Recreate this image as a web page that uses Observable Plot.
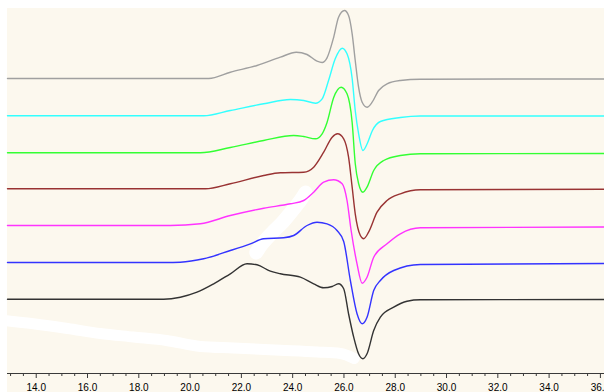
<!DOCTYPE html>
<html>
<head>
<meta charset="utf-8">
<script src="https://cdn.jsdelivr.net/npm/d3@7"></script>
<script src="https://cdn.jsdelivr.net/npm/@observablehq/plot@0.6"></script>
<style>
  html, body { margin: 0; padding: 0; background: #ffffff; }
  #wrap { padding-left: 7px; padding-top: 8px; }
  svg { display: block; }
</style>
</head>
<body>
<div id="wrap"></div>
<script>
// Series (top to bottom), colours and vertical offsets of each trace
const names   = ["trace 1", "trace 2", "trace 3", "trace 4", "trace 5", "trace 6", "trace 7"];
const colors  = ["#a0a0a0", "#33ffff", "#33ff33", "#993333", "#ff33ff", "#3333ff", "#333333"];
const offsets = [295, 257.7, 220.7, 184.7, 148, 111, 74.3];

// Traces: [time, signal relative to its baseline]
const grayTrace = [[12.88,0],[20.73,0],[21.57,6.3],[22.61,13],[23.52,21.3],[24.14,26.3],[24.56,24],[24.95,17.3],[25.15,16],[25.34,20.7],[25.60,41.3],[25.79,61.3],[26.02,68],[26.18,63],[26.32,44.7],[26.44,18],[26.57,-8.7],[26.71,-23.7],[26.90,-28.7],[27.10,-23.7],[27.35,-12],[27.68,-5.3],[28.20,-2],[28.98,-0.7],[36.16,-0.5]];
const cyanTrace = [[12.88,0],[20.53,0],[21.57,5.3],[22.87,12],[23.91,16.3],[24.43,15.3],[24.89,12.6],[25.15,17],[25.40,35.3],[25.66,57],[25.93,67.6],[26.12,62],[26.32,37.3],[26.44,5.3],[26.57,-17.7],[26.74,-34.7],[26.91,-27.7],[27.11,-14.7],[27.42,-5.7],[28.20,-1.7],[28.98,-0.2],[36.16,-0.2]];
const greenTrace = [[12.88,0],[20.40,0],[21.57,5.3],[22.87,12.3],[24.04,17.3],[24.43,16.3],[24.89,14],[25.15,19],[25.34,30.3],[25.60,55.3],[25.89,65.6],[26.12,59],[26.32,30.3],[26.44,-10.7],[26.57,-30.7],[26.74,-39.4],[26.90,-34.4],[27.16,-17.7],[27.55,-7.7],[28.20,-2.7],[28.98,-1],[36.16,-0.7]];
const brownTrace = [[12.88,0],[20.60,0],[21.57,5],[22.87,13.3],[23.52,16],[24.43,16.6],[24.82,21.6],[25.21,36.6],[25.54,51.6],[25.75,55],[25.99,50],[26.18,31.6],[26.32,1.6],[26.44,-25],[26.64,-46.7],[26.77,-50],[26.96,-43.4],[27.29,-23.4],[27.68,-11.7],[28.20,-5],[28.98,-1],[36.16,-0.5]];
const magentaTrace = [[12.88,0],[19.23,0],[20.40,1.7],[21.57,10],[22.87,17.3],[23.91,21.7],[24.43,25],[24.82,33.3],[25.21,43.3],[25.60,45.7],[25.93,41.7],[26.12,25],[26.28,-5],[26.51,-38.3],[26.71,-57.7],[26.90,-51.7],[27.16,-31.7],[27.68,-18.3],[28.20,-8.3],[28.98,-2.3],[36.16,-1.5]];
const blueTrace = [[12.88,0],[19.04,0],[19.62,0.3],[20.53,3.7],[21.57,12],[22.35,18.7],[22.87,23.7],[23.65,24.7],[24.04,27],[24.56,37],[24.95,40.3],[25.34,38.7],[25.73,32],[25.99,21],[26.25,-18],[26.51,-51.3],[26.71,-61.3],[26.90,-54.7],[27.16,-28],[27.42,-18],[27.94,-8],[28.98,-2],[36.16,-1]];
const blackTrace = [[12.88,0],[18.97,0],[19.62,2],[20.27,7],[20.92,15.4],[21.57,25.4],[22.22,35.4],[22.61,34.4],[23.13,28],[23.52,25.4],[24.30,22],[24.82,15.4],[25.21,11.4],[25.54,12.7],[25.79,15.4],[25.99,10.4],[26.18,-14.6],[26.38,-38],[26.57,-54.6],[26.74,-59.6],[26.90,-54.6],[27.16,-31.3],[27.42,-18],[27.94,-8],[28.46,-2],[28.98,-0.6],[36.16,-0.3]];
const traces = [grayTrace, cyanTrace, greenTrace, brownTrace, magentaTrace, blueTrace, blackTrace];

// White erasure artifacts visible in the picture: [time, signal]
const whiteBand = [[12.6,53.5],[13.89,49.7],[15.22,45],[16.50,40],[17.79,36.5],[19.08,33],[20.40,27],[21.69,25.5],[23.52,23.3],[24.96,21.5],[25.86,20],[26.4,15]];
const whiteBlob = [[22.58,121],[22.82,130],[23.21,141],[23.60,151],[23.99,163],[24.30,173],[24.50,181]];

// Axis ticks
const majorTicks = d3.range(14, 36.01, 2);
const minorTicks = d3.range(13, 36.01, 0.5).filter(t => Math.abs(t / 2 - Math.round(t / 2)) > 1e-9);
const xDomain = [12.88, 36.16];
const yDomain = [0, 365];

const rows = traces.flatMap((tr, i) => tr.map(([t, v]) => ({t, y: offsets[i] + v, s: names[i]})));
const band = whiteBand.map(([t, v]) => ({t, y: v}));
const blob = whiteBlob.map(([t, v]) => ({t, y: v}));

const chart = Plot.plot({
  width: 597,
  height: 384,
  marginLeft: 0,
  marginRight: 0,
  marginTop: 0,
  marginBottom: 19,
  style: {background: "#fcf8ee", fontFamily: "Liberation Sans, Arial, sans-serif", fontSize: "10px", color: "#000", overflow: "visible"},
  x: {domain: xDomain, axis: null, label: null},
  y: {domain: yDomain, axis: null, label: null},
  color: {domain: names, range: colors},
  marks: [
    Plot.line(band, {x: "t", y: "y", stroke: "#ffffff", strokeWidth: 11, curve: "monotone-x", strokeLinecap: "round"}),
    Plot.line(blob, {x: "t", y: "y", stroke: "#ffffff", strokeWidth: 14, curve: "catmull-rom", strokeLinecap: "round"}),
    Plot.line(rows, {x: "t", y: "y", z: "s", stroke: "s", strokeWidth: 1.4, curve: "monotone-x"}),
    Plot.ruleY([0], {stroke: "#3a3a3a", strokeWidth: 1}),
    Plot.ruleX(minorTicks, {y1: 0, y2: 0, insetBottom: -3, stroke: "#3a3a3a"}),
    Plot.axisX({ticks: majorTicks, tickSize: 5, tickPadding: 5, tickFormat: d => d.toFixed(1), label: null, stroke: "#3a3a3a", fill: "#000"})
  ]
});
document.getElementById("wrap").appendChild(chart);
</script>
</body>
</html>
